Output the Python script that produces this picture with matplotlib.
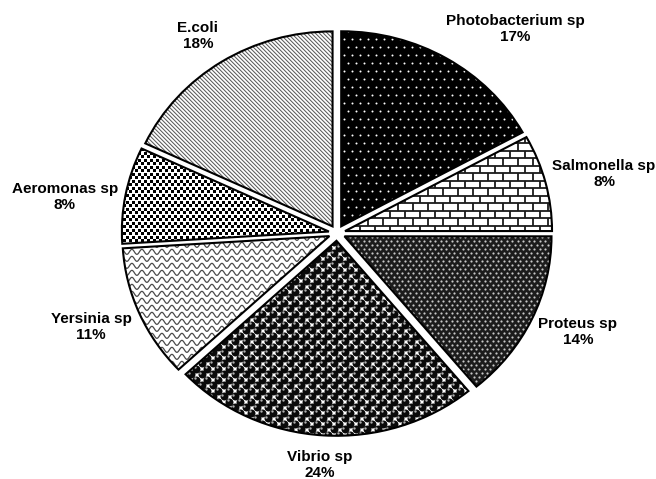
import numpy as np
import matplotlib.pyplot as plt
from matplotlib.patches import Wedge
from matplotlib.collections import LineCollection

plt.rcParams['font.family'] = ['Liberation Sans', 'DejaVu Sans']

# share of isolates per genus
bacteria = ['Photobacterium sp', 'Salmonella sp', 'Proteus sp', 'Vibrio sp',
            'Yersinia sp', 'Aeromonas sp', 'E.coli']
share = [17, 8, 14, 24, 11, 8, 18]

W, H = 656, 479
CX, CY = 337, 233          # pie centre in pixels (y from top)
RX, RY = 207, 195          # the pie is drawn slightly squashed
pxx, pxy = 1.0 / RX, 1.0 / RY

fig = plt.figure(figsize=(W / 100, H / 100), dpi=100)
ax = fig.add_axes([0, 0, 1, 1])


def to_data(x, y):
    return (x - CX) / RX, (CY - y) / RY


wedges, _ = ax.pie(share, startangle=90, counterclock=False, radius=1,
                   explode=[0.04] * len(share),
                   wedgeprops=dict(linewidth=0, edgecolor='none'))

# pie() resets limits and aspect, so set them afterwards
ax.set_xlim(-CX / RX, (W - CX) / RX)
ax.set_ylim(-(H - CY) / RY, CY / RY)
ax.set_aspect('auto')
ax.axis('off')


def grid(w, dx, dy, stagger=True):
    x0, y0 = w.center
    pts = []
    for i, y in enumerate(np.arange(y0 - 1.05, y0 + 1.05, dy * pxy)):
        off = dx * pxx / 2 if (stagger and i % 2) else 0
        for x in np.arange(x0 - 1.05, x0 + 1.05, dx * pxx) + off:
            pts.append((x, y))
    return np.array(pts)


def dots(w, dx, dy, d, color, marker='o', shift=(0, 0), stagger=True):
    p = grid(w, dx, dy, stagger)
    sc = ax.scatter(p[:, 0] + shift[0] * pxx, p[:, 1] + shift[1] * pxy,
                    s=(d * 0.72) ** 2, c=color, marker=marker,
                    linewidths=0, zorder=3)
    sc.set_clip_path(w)


def lines(w, segs, color, lw):
    lc = LineCollection(segs, colors=color, linewidths=lw, zorder=3)
    ax.add_collection(lc)
    lc.set_clip_path(w)


def bricks(w, h, bw):
    x0, y0 = w.center
    segs = []
    for i, y in enumerate(np.arange(y0 - 1.05, y0 + 1.05, h * pxy)):
        segs.append([(x0 - 1.05, y), (x0 + 1.05, y)])
        off = bw * pxx / 2 if i % 2 else 0
        for x in np.arange(x0 - 1.05, x0 + 1.05, bw * pxx) + off:
            segs.append([(x, y), (x, y + h * pxy)])
    lines(w, segs, '#1a1a1a', 1.3)


def waves(w, period, amp, gap):
    x0, y0 = w.center
    t = np.arange(-1.05 * RX, 1.05 * RX, 0.5)
    wav = amp * np.sin(2 * np.pi * t / period)
    segs = [np.column_stack([x0 + t * pxx, y + wav * pxy])
            for y in np.arange(y0 - 1.05, y0 + 1.05, gap * pxy)]
    lines(w, segs, '#4a4a4a', 0.9)


def stripes(w, gap):
    x0, y0 = w.center
    L = 260
    segs = [[(x0 + (c - L) * pxx, y0 + L * pxy), (x0 + (c + L) * pxx, y0 - L * pxy)]
            for c in np.arange(-2 * L, 2 * L, gap)]
    lines(w, segs, '#5a5a5a', 0.75)


faces = ['black', 'white', '#1c1c1c', 'white', 'white', 'white', 'white']
for w, fc in zip(wedges, faces):
    w.set_facecolor(fc)

# Photobacterium: white pin dots on black
dots(wedges[0], 8, 8, 2.0, 'white')
# Salmonella: bricks
bricks(wedges[1], 7.5, 15)
# Proteus: fine light dots on dark
dots(wedges[2], 5.5, 4, 2.2, '#c8c8c8')
# Vibrio: black spheres with a highlight
dots(wedges[3], 11, 5.5, 8.0, '#0a0a0a')
dots(wedges[3], 11, 5.5, 2.4, '#b0b0b0', shift=(-1.4, 1.4))
# Yersinia: waves
waves(wedges[4], 10, 2.5, 7)
# Aeromonas: small squares
dots(wedges[5], 6, 3.5, 3.0, 'black', marker='s')
# E.coli: diagonal stripes
stripes(wedges[6], 4)

for w in wedges:
    ax.add_patch(Wedge(w.center, w.r, w.theta1, w.theta2, fill=False,
                       edgecolor='black', linewidth=1.5, zorder=4))

# label anchors, pixel positions
label_pos = [(515, 29), (604, 174), (578, 332), (320, 465),
             (91, 327), (65, 197), (198, 36)]
for name, v, (x, y) in zip(bacteria, share, label_pos):
    ax.text(*to_data(x, y), f'{name}\n{v}%', ha='center', va='center',
            fontsize=11, fontweight='bold', linespacing=1.25, zorder=5)

fig.savefig('out.png', dpi=100)
